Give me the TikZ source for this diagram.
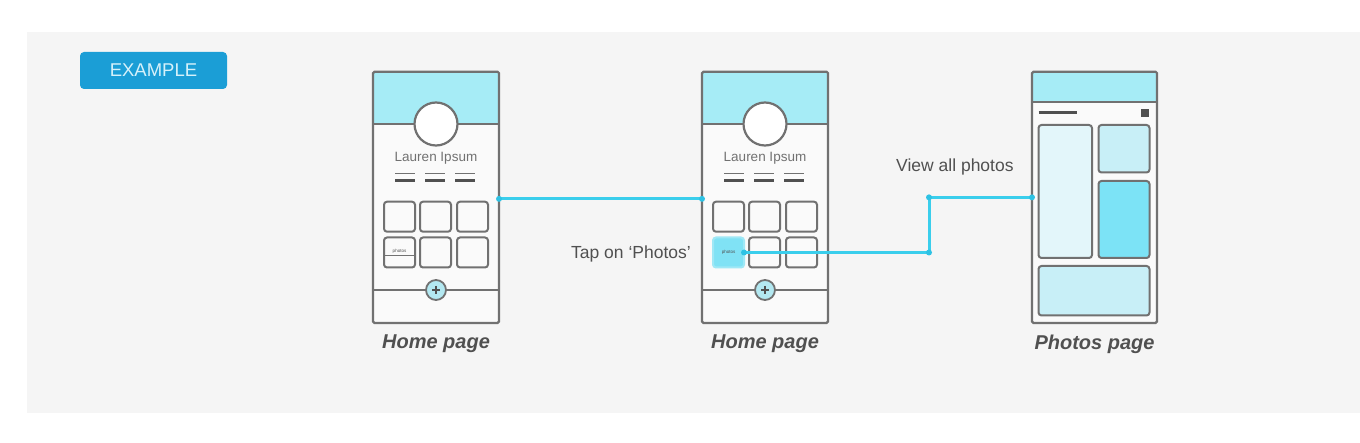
\documentclass[tikz,border=0pt]{standalone}
\usepackage{fontspec}
\setmainfont{Liberation Sans}
\definecolor{panel}{HTML}{F5F5F5}
\definecolor{screen}{HTML}{FAFAFA}
\definecolor{frame}{HTML}{717171}
\definecolor{darkline}{HTML}{505050}
\definecolor{head}{HTML}{A6ECF6}
\definecolor{link}{HTML}{3ACEEC}
\definecolor{linkdark}{HTML}{2EC2E4}
\definecolor{badge}{HTML}{1B9ED6}
\definecolor{badgetext}{HTML}{D6F1FA}
\definecolor{txt}{HTML}{505050}
\definecolor{hilite}{HTML}{80E2F5}
\definecolor{hiliteborder}{HTML}{9FE8F6}
\definecolor{paleA}{HTML}{E3F6FA}
\definecolor{paleB}{HTML}{C8EFF7}
\definecolor{brightC}{HTML}{7CE3F6}
\definecolor{plusfill}{HTML}{B3E8F1}
\tikzset{
  frameline/.style={draw=frame, line width=2.2pt},
  phone/.style={draw=frame, line width=2.2pt, minimum width=126pt, minimum height=251.3pt, inner sep=0pt, outer sep=0pt, rounded corners=1.5pt},
  cell/.style={draw=frame, line width=2pt, rounded corners=3pt, minimum width=31pt, minimum height=30pt, inner sep=0pt, outer sep=0pt},
  box/.style={draw=frame, line width=2pt, rounded corners=3pt},
  link/.style={draw=link, line width=3pt},
  linkdot/.style={fill=linkdark},
  badgebox/.style={fill=badge, rounded corners=4pt, minimum width=147pt, minimum height=37pt, inner sep=0pt, text=badgetext, font=\fontsize{18.5}{18.5}\selectfont},
  pagelabel/.style={text=txt, font=\bfseries\itshape\fontsize{20}{20}\selectfont, inner sep=0pt},
  note/.style={text=txt, font=\fontsize{17.5}{17.5}\selectfont, inner sep=0pt},
  tiny/.style={text=txt, font=\fontsize{4.5}{4.5}\selectfont, inner sep=0pt},
  nametext/.style={text=frame, font=\fontsize{13.5}{13.5}\selectfont, inner sep=0pt}
}
\newcommand\homephone[2]{%
\begin{scope}[xshift=#1pt]
  \fill[screen] (373,71.7) rectangle (499,323);
  \fill[head] (373,71.7) rectangle (499,124);
  \draw[frameline] (373,124) -- (499,124);
  \draw[frameline, fill=white] (436,124) circle (21.5pt);
  \node[nametext] (#2name) at (436,158) {Lauren Ipsum};
  \foreach \dx in {395,425,455} {
    \draw[draw=frame, line width=1.6pt] (\dx,173.5) -- ++(20,0);
    \draw[draw=darkline, line width=3pt] (\dx,181) -- ++(20,0);
  }
  \node[cell] (#2a) at (399.5,216.7) {};
  \node[cell] (#2b) at (435.5,216.7) {};
  \node[cell] (#2d) at (472.5,216.7) {};
  \node[cell] (#2e) at (435.5,252.5) {};
  \node[cell] (#2f) at (472.5,252.5) {};
  \draw[frameline] (373,290) -- (499,290);
  \draw[draw=frame, line width=1.8pt, fill=plusfill] (436,290) circle (10pt);
  \draw[draw=darkline, line width=1.5pt] (432,290) -- (440,290) (436,286) -- (436,294);
  \node[phone] (#2) at (436,197.35) {};
\end{scope}}
\begin{document}
\begin{tikzpicture}[x=1pt,y=-1pt]
\useasboundingbox (0,0) rectangle (1360,443);
\fill[white] (0,0) rectangle (1360,443);
\fill[panel] (27,32) rectangle (1360,413);

\node[badgebox] (badge) at (153.5,70.5) {EXAMPLE};

% phone 1
\homephone{0}{p1}
\node[cell] (c1) at (399.5,252.5) {};
\draw[draw=frame, line width=0.9pt] (c1.west |- 0,255) -- (c1.east |- 0,255);
\node[tiny] (c1t) at (399.5,251.5) {photos};

% phone 2
\homephone{329}{p2}
\node[cell, draw=hiliteborder, fill=hilite] (c2) at (728.5,252.5) {};
\node[tiny] (c2t) at (728.5,252.5) {photos};

% phone 3
\fill[screen] (1032,71.7) rectangle (1157,323);
\fill[head] (1032,71.7) rectangle (1157,101.7);
\draw[frameline] (1032,101.7) -- (1157,101.7);
\draw[draw=darkline, line width=2.6pt] (1038.5,112.7) -- (1077,112.7);
\fill[darkline] (1140.5,109) rectangle (1149,117.5);
\draw[box, fill=paleA] (1038.5,125) rectangle (1092,258);
\draw[box, fill=paleB] (1098.5,125) rectangle (1149.5,172.5);
\draw[box, fill=brightC] (1098.5,181) rectangle (1149.5,258);
\draw[box, fill=paleB] (1038.5,266) rectangle (1149.5,315.5);
\node[phone, minimum width=125pt] (p3) at (1094.5,197.35) {};

% labels
\node[pagelabel] (l1) at (436,344) {Home page};
\node[pagelabel] (l2) at (765,344) {Home page};
\node[pagelabel] (l3) at (1094.5,344) {Photos page};
\node[note, anchor=east] (t1) at (691,254) {Tap on ‘Photos’};
\node[note, anchor=west] (t2) at (896,167) {View all photos};

% connectors
\coordinate (a1) at ([yshift=-1.5pt]p1.east);
\coordinate (a2) at ([yshift=-1.5pt]p2.west);
\draw[link] (a1) -- (a2);
\fill[linkdot] (a1) circle (3pt);
\fill[linkdot] (a2) circle (3pt);

\path (929,0) coordinate (kx);
\coordinate (k1) at (c2.east -| kx);
\coordinate (k2) at (p3.west -| kx);
\draw[link] (c2.east) -- (k1) -- (k2) -- (p3.west);
\fill[linkdot] (c2.east) circle (3pt);
\fill[linkdot] (k1) circle (3pt);
\fill[linkdot] (k2) circle (3pt);
\fill[linkdot] (p3.west) circle (3pt);
\end{tikzpicture}
\end{document}
